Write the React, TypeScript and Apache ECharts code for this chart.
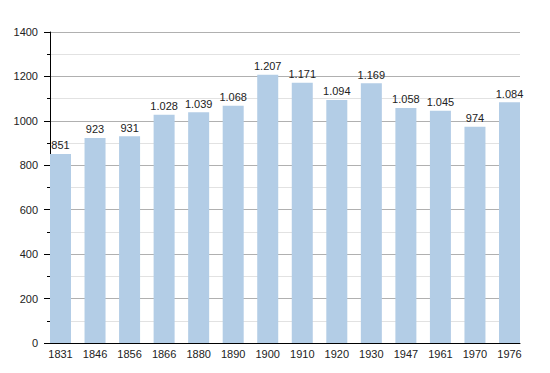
import React, { useEffect, useRef } from "react";
import * as echarts from "echarts";

const years = ["1831", "1846", "1856", "1866", "1880", "1890", "1900", "1910", "1920", "1930", "1947", "1961", "1970", "1976"];
const population = [851, 923, 931, 1028, 1039, 1068, 1207, 1171, 1094, 1169, 1058, 1045, 974, 1084];

const fmt = (v: number) => {
  const s = String(Math.round(v));
  return s.replace(/\B(?=(\d{3})+(?!\d))/g, ".");
};

export default function App() {
  const ref = useRef<HTMLDivElement>(null);
  useEffect(() => {
    if (!ref.current) return;
    const chart = echarts.init(ref.current, null, { renderer: "svg" });
    const font = "'Liberation Sans', Arial, Helvetica, sans-serif";
    chart.setOption({
      animation: false,
      textStyle: { fontFamily: font },
      grid: [
        { left: 50, right: 30, top: 32, bottom: 30 },
        { left: 60.5, right: 40.5, top: 32, bottom: 30 },
      ],
      xAxis: [
        {
          gridIndex: 0,
          type: "category",
          data: years,
          axisLine: { show: true, lineStyle: { color: "#000", width: 1 } },
          axisTick: { show: false },
          axisLabel: { show: false },
        },
        {
          gridIndex: 1,
          type: "category",
          data: years,
          boundaryGap: false,
          axisLine: { show: false },
          axisTick: { show: false },
          axisLabel: { show: true, color: "#222", fontSize: 11, fontFamily: font, margin: 5, interval: 0 },
        },
      ],
      yAxis: [
        {
          gridIndex: 0,
          type: "value",
          min: 0,
          max: 1400,
          interval: 200,
          axisLine: { show: true, lineStyle: { color: "#000", width: 1 } },
          axisTick: { show: true, length: 6, lineStyle: { color: "#000" } },
          minorTick: { show: true, splitNumber: 2, length: 3, lineStyle: { color: "#000" } },
          splitLine: { show: true, lineStyle: { color: "#b0b0b0", width: 1 } },
          minorSplitLine: { show: true, lineStyle: { color: "#e2e2e2", width: 1 } },
          axisLabel: { color: "#222", fontSize: 11, fontFamily: font, margin: 12, formatter: (v: number) => String(v) },
        },
        {
          gridIndex: 1,
          type: "value",
          min: 0,
          max: 1400,
          show: false,
          splitLine: { show: false },
        },
      ],
      series: [
        {
          type: "bar",
          xAxisIndex: 1,
          yAxisIndex: 1,
          data: population,
          barWidth: 21,
          itemStyle: { color: "#b3cde6" },
          label: {
            show: true,
            position: "top",
            distance: 3,
            color: "#222",
            fontSize: 11,
            fontFamily: font,
            formatter: (p: any) => fmt(p.value),
          },
        },
      ],
    });
    return () => chart.dispose();
  }, []);
  return <div ref={ref} style={{ width: 550, height: 373, position: "absolute", left: 0, top: 0 }} />;
}
